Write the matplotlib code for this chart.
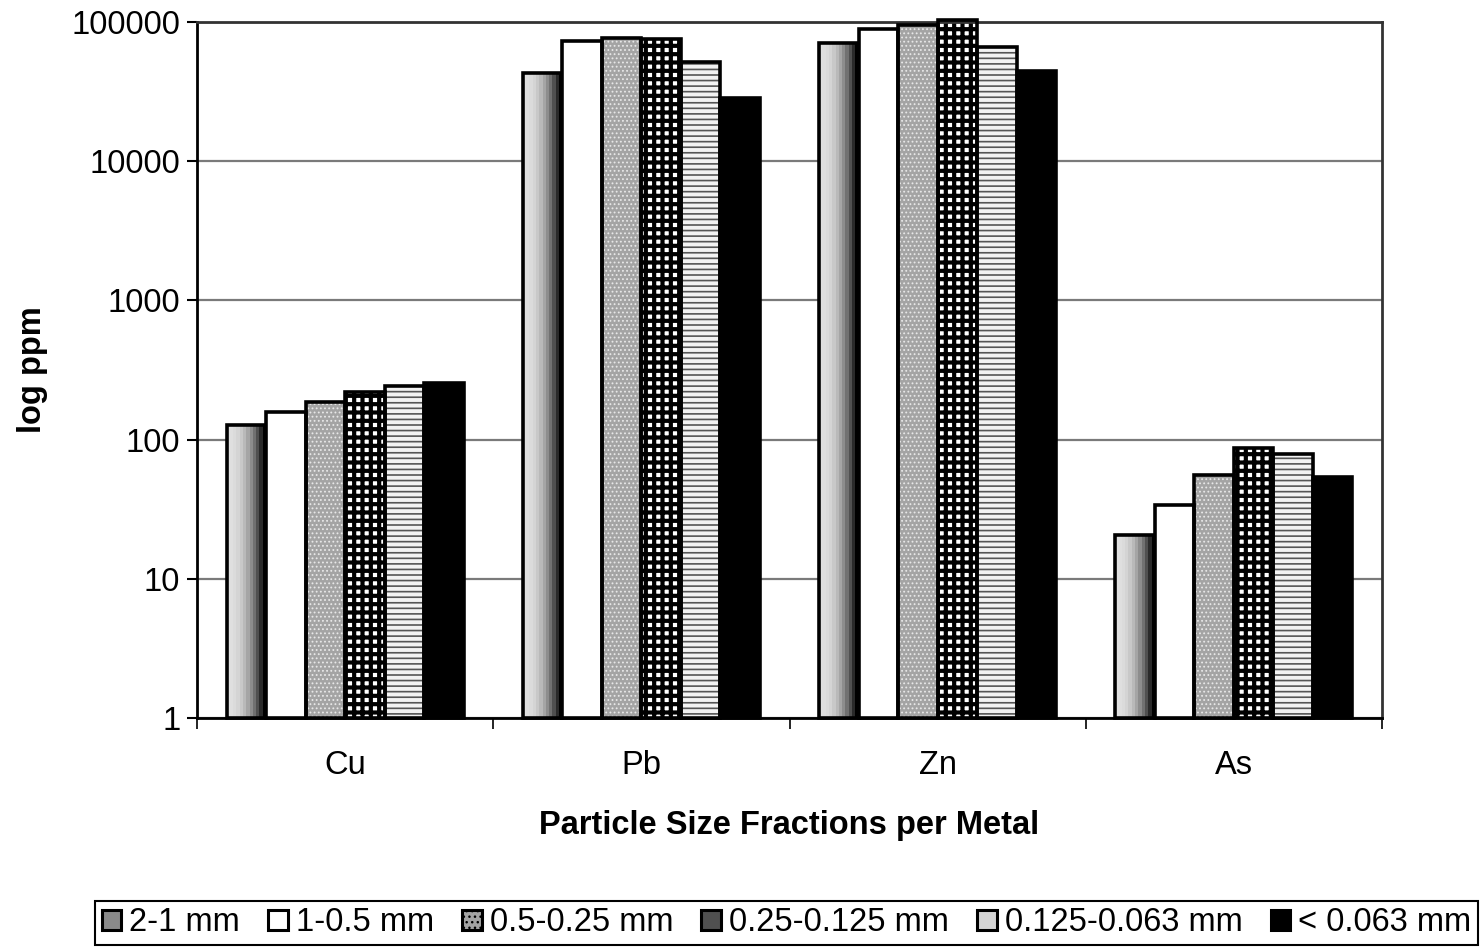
import matplotlib
matplotlib.use("Agg")
import matplotlib.pyplot as plt
import matplotlib.patches as mpatches
import numpy as np

plt.rcParams['font.family'] = ['Liberation Sans', 'DejaVu Sans']

metals = ['Cu', 'Pb', 'Zn', 'As']
fractions = ['2-1 mm', '1-0.5 mm', '0.5-0.25 mm', '0.25-0.125 mm',
             '0.125-0.063 mm', '< 0.063 mm']
f_2_1 = [127, 43000, 70700, 20.6]
f_1_05 = [158, 73000, 89000, 34]
f_05_025 = [186, 77000, 95000, 56]
f_025_0125 = [220, 75500, 104000, 87]
f_0125_0063 = [243, 51600, 66000, 79]
f_lt_0063 = [255, 28400, 44500, 54]
series = [f_2_1, f_1_05, f_05_025, f_025_0125, f_0125_0063, f_lt_0063]
yticks = [1, 10, 100, 1000, 10000, 100000]
ytick_labels = ['1', '10', '100', '1000', '10000', '100000']

FS = 23.5

fig = plt.figure(figsize=(14.8, 9.47), dpi=100)
ax = fig.add_axes([197/1480, 1-718/947, (1382-197)/1480, (718-22)/947])
ax.set_yscale('log')
ax.set_ylim(1, 100000)
ax.set_xlim(-0.5, len(metals) - 0.5)

x = np.arange(len(metals))
n = len(series)
w = 0.8 / n
offsets = (np.arange(n) - (n - 1) / 2) * w
BASE = 1.0
LW = 2.6


def hts(vals):
    return np.asarray(vals, dtype=float) - BASE


# gridlines
ax.set_axisbelow(True)
ax.yaxis.grid(True, color='#7a7a7a', lw=1.6)

# series 1: shaded (gradient) bars
nstrip = 12
for k in range(nstrip):
    t = k / (nstrip - 1)
    g = 0.88 * (1 - t ** 2.2)
    ax.bar(x + offsets[0] - w/2 + (k + 0.5) * w / nstrip, hts(f_2_1), bottom=BASE,
           width=w / nstrip * 1.05, color=(g, g, g), lw=0, zorder=2, clip_on=False)
ax.bar(x + offsets[0], hts(f_2_1), bottom=BASE, width=w, facecolor='none',
       edgecolor='black', lw=LW, zorder=3, clip_on=False)

# series 2: white
ax.bar(x + offsets[1], hts(f_1_05), bottom=BASE, width=w, facecolor='white',
       edgecolor='black', lw=LW, zorder=3, clip_on=False)

# series 3: grey stipple
with plt.rc_context({'hatch.linewidth': 0.8}):
    ax.bar(x + offsets[2], hts(f_05_025), bottom=BASE, width=w, facecolor='#a4a4a4',
           edgecolor='#e8e8e8', hatch='....', lw=0, zorder=2, clip_on=False)
ax.bar(x + offsets[2], hts(f_05_025), bottom=BASE, width=w, facecolor='none',
       edgecolor='black', lw=LW, zorder=3, clip_on=False)

# series 4: black grid
with plt.rc_context({'hatch.linewidth': 3.0}):
    ax.bar(x + offsets[3], hts(f_025_0125), bottom=BASE, width=w, facecolor='white',
           edgecolor='black', hatch='++', lw=0, zorder=2, clip_on=False)
ax.bar(x + offsets[3], hts(f_025_0125), bottom=BASE, width=w, facecolor='none',
       edgecolor='black', lw=LW, zorder=3, clip_on=False)

# series 5: horizontal lines
with plt.rc_context({'hatch.linewidth': 1.2}):
    ax.bar(x + offsets[4], hts(f_0125_0063), bottom=BASE, width=w, facecolor='#f2f2f2',
           edgecolor='#555555', hatch='---', lw=0, zorder=2, clip_on=False)
ax.bar(x + offsets[4], hts(f_0125_0063), bottom=BASE, width=w, facecolor='none',
       edgecolor='black', lw=LW, zorder=3, clip_on=False)

# series 6: black
ax.bar(x + offsets[5], hts(f_lt_0063), bottom=BASE, width=w, facecolor='black',
       edgecolor='black', lw=LW, zorder=3, clip_on=False)

# axes styling
ax.set_yticks(yticks)
ax.set_yticklabels(ytick_labels, fontsize=FS)
ax.minorticks_off()
ax.set_xticks(x)
ax.set_xticklabels(metals, fontsize=FS)
ax.tick_params(axis='x', length=0, pad=23)
ax.tick_params(axis='y', length=7, width=1.5, pad=5)
ax.set_xticks(np.arange(len(metals) + 1) - 0.5, minor=True)
ax.tick_params(axis='x', which='minor', length=8, width=1.2, direction='out')
for s in ['left', 'bottom']:
    ax.spines[s].set_linewidth(2)
    ax.spines[s].set_color('black')
for s in ['top', 'right']:
    ax.spines[s].set_linewidth(2)
    ax.spines[s].set_color('#333333')

ax.set_ylabel('log ppm', fontsize=FS, fontweight='bold', labelpad=17)
ax.set_xlabel('Particle Size Fractions per Metal', fontsize=FS, fontweight='bold',
              labelpad=21)

# legend proxies
h1 = mpatches.Patch(facecolor='#8a8a8a', edgecolor='black', lw=2.2)
h2 = mpatches.Patch(facecolor='white', edgecolor='black', lw=2.2)
h3 = mpatches.Patch(facecolor='#a4a4a4', edgecolor='black', hatch='...', lw=2.2)
h4 = mpatches.Patch(facecolor='#505050', edgecolor='black', lw=2.2)
h5 = mpatches.Patch(facecolor='#d4d4d4', edgecolor='black', lw=2.2)
h6 = mpatches.Patch(facecolor='black', edgecolor='black', lw=2.2)
leg = fig.legend([h1, h2, h3, h4, h5, h6], fractions, loc='lower left',
                 bbox_to_anchor=(95/1480, 2/947, 1383/1480, 47/947), mode='expand',
                 ncol=6, fontsize=FS, handlelength=0.6, handleheight=0.6,
                 handletextpad=0.25, columnspacing=0.3, fancybox=False,
                 edgecolor='black', framealpha=1, borderpad=0.2, borderaxespad=0)
leg.get_frame().set_linewidth(1.5)

fig.savefig('out.png', dpi=100)
